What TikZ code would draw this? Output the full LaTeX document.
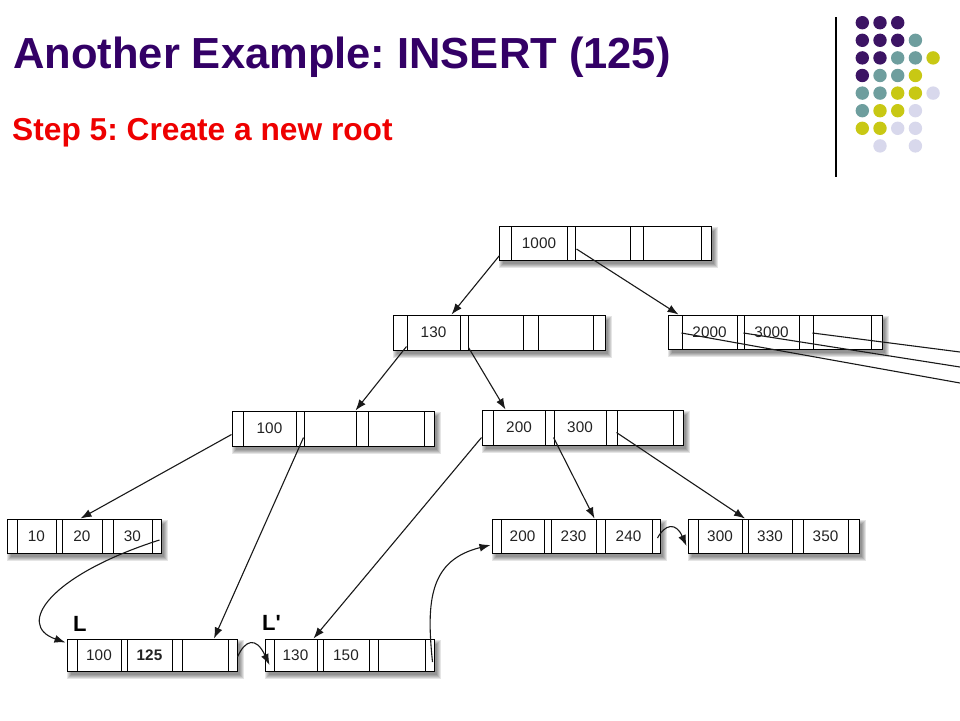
\documentclass[tikz,border=0pt]{standalone}
\usepackage{fontspec}
\setmainfont{Liberation Sans}
\usetikzlibrary{calc,arrows.meta}
\definecolor{titlecol}{HTML}{330066}
\definecolor{stepred}{HTML}{EE0000}
\definecolor{dpurple}{HTML}{3C1464}
\definecolor{dteal}{HTML}{6E9E9E}
\definecolor{dyellow}{HTML}{C8C814}
\definecolor{dlav}{HTML}{D8D8EC}
\definecolor{keytext}{HTML}{222222}
\tikzset{
  cellbox/.style={draw=black,line width=1pt,fill=white,inner sep=0pt,
    font=\fontsize{15.3}{17}\selectfont,text=keytext},
  conn/.style={draw=black!90,line width=1.1pt,-{Latex[length=11pt,width=8pt]}},
  plainline/.style={draw=black!90,line width=1.1pt},
  dot/.style={circle,inner sep=0pt,minimum size=13.4pt},
  leaflabel/.style={font=\fontsize{22}{24}\selectfont\bfseries,inner sep=0pt,anchor=base west}
}
\newcommand\shadowrect[4]{%
  \foreach \s in {0,1,2,3,4}{%
    \fill[black,opacity=0.1] ({#1+4-\s},{#2+5-\s}) rectangle ({#3+3+\s},{#4+4+\s});
  }}
\newcommand\bbox[7]{%
  \pgfmathsetmacro\bxa{{#4}[0]}%
  \pgfmathsetmacro\bxb{{#4}[7]}%
  \shadowrect{\bxa}{#2}{\bxb}{#3}%
  \pgfmathsetmacro\bh{#3-#2}%
  \foreach \i in {0,...,6}{%
    \pgfmathtruncatemacro\j{\i+1}%
    \pgfmathsetmacro\xl{{#4}[\i]}%
    \pgfmathsetmacro\xr{{#4}[\j]}%
    \pgfmathsetmacro\w{\xr-\xl}%
    \pgfmathtruncatemacro\half{\i/2}%
    \ifodd\i\relax\edef\nm{#1-k\half}\else\edef\nm{#1-p\half}\fi
    \node[cellbox,minimum width=\w pt,minimum height=\bh pt] (\nm) at ({(\xl+\xr)/2},{(#2+#3)/2}) {\ifcase\i\or#5\or\or#6\or\or#7\fi};
  }}
\frenchspacing
\begin{document}
\begin{tikzpicture}[x=1pt,y=-1pt]
\useasboundingbox[fill=white] (0,0) rectangle (960,720);

% title
\node[anchor=base west,inner sep=0pt,text=titlecol,font=\fontsize{43.5}{48}\selectfont\bfseries] (title) at (13,68) {Another Example: INSERT (125)};
\node[anchor=base west,inner sep=0pt,text=stepred,font=\fontsize{31.7}{36}\selectfont\bfseries] (step) at (12,140) {Step 5: Create a new root};

% decoration
\draw[line width=1.3pt] (836,17) -- (836,177);
\foreach \r/\c/\col in {0/0/dpurple,0/1/dpurple,0/2/dpurple,
  1/0/dpurple,1/1/dpurple,1/2/dpurple,1/3/dteal,
  2/0/dpurple,2/1/dpurple,2/2/dteal,2/3/dteal,2/4/dyellow,
  3/0/dpurple,3/1/dteal,3/2/dteal,3/3/dyellow,
  4/0/dteal,4/1/dteal,4/2/dyellow,4/3/dyellow,4/4/dlav,
  5/0/dteal,5/1/dyellow,5/2/dyellow,5/3/dlav,
  6/0/dyellow,6/1/dyellow,6/2/dlav,6/3/dlav,
  7/1/dlav,7/3/dlav}{
  \node[dot,fill=\col] (dot-\r-\c) at ({862.3+17.7*\c},{22.7+17.6*\r}) {};
}

% B+ tree nodes
\bbox{root}{226}{260}{499,511,567,575,630,643,701,711}{1000}{}{}
\bbox{na}{315}{350}{393,407,460,468,523,538,593,605}{130}{}{}
\bbox{nb}{315}{349}{668,682,737,744,799,813,871,882}{2000}{3000}{}
\bbox{nc}{411}{446}{232,243,296,304,356,368,424,434}{100}{}{}
\bbox{nd}{410}{445}{482,493,545,554,606,617,673,683}{200}{300}{}
\bbox{la}{519}{553}{7,17,56,62,102,113,152,161}{10}{20}{30}
\bbox{lb}{519}{553}{492,501,544,551,596,605,652,660}{200}{230}{240}
\bbox{lc}{519}{553}{688,698,742,748,792,803,848,859}{300}{330}{350}
\bbox{ll}{639}{671}{67,77,121,127,172,182,228,237}{100}{\bfseries 125}{}
\bbox{lp}{639}{671}{265,274,317,323,369,378,425,434}{130}{150}{}

\node[leaflabel] (lab-L) at (73,631) {L};
\node[leaflabel] (lab-Lp) at (262,630) {L\textquotesingle};

% connectors
\draw[conn] ($(root-p0.south west)+(1,-5)$) -- ($(na-k0.north east)+(-9,0)$);
\draw[conn] ($(root-k1.west)+(2,6)$) -- ($(nb-p0.north east)+(-4,0)$);
\draw[conn] ($(na-p0.south east)+(-1,-4)$) -- (nc-p2.north west);
\draw[conn] ($(na-p1.south east)+(0,-3)$) -- ($(nd-k0.north west)+(13,0)$);

\coordinate (off1) at (960,352);
\coordinate (off2) at (960,367);
\coordinate (off3) at (960,383);
\draw[plainline] ($(nb-k0.west)+(0,1)$) -- (off3);
\draw[plainline] ($(nb-k1.west)+(0,1)$) -- (off2);
\draw[plainline] ($(nb-k2.west)+(0,1)$) -- (off1);

\draw[conn] ($(nc-p0.south west)+(0,-12)$) -- ($(la-k1.north west)+(19,0)$);
\draw[conn] ($(nc-k1.west)+(0,9)$) -- ($(ll-k2.north)+(9,0)$);
\draw[conn] ($(nd-p0.south west)+(0,-8)$) -- ($(lp-k0.north east)+(-4,0)$);
\draw[conn] ($(nd-k1.west)+(0,10)$) -- ($(lb-p2.north west)+(-1,0)$);
\draw[conn] ($(nd-k2.west)+(0,5)$) -- (lc-p1.north);

\draw[conn] ($(la-p3.center)+(3,4)$) .. controls (50,575) and (15,625) .. ($(ll-p0.north west)+(-1,4)$);
\draw[conn] ($(ll-p3.east)+(0,2)$) .. controls (245,640) and (256,636) .. ($(lp-p0.center)+(0,10)$);
\draw[conn] ($(lp-p3.center)+(3,7)$) .. controls (426,600) and (430,560) .. ($(lb-p0.west)+(-1,9)$);
\draw[conn] ($(lb-p3.east)+(-3,2)$) .. controls (665,524) and (676,522) .. ($(lc-p0.west)+(-1,10)$);
\end{tikzpicture}
\end{document}
